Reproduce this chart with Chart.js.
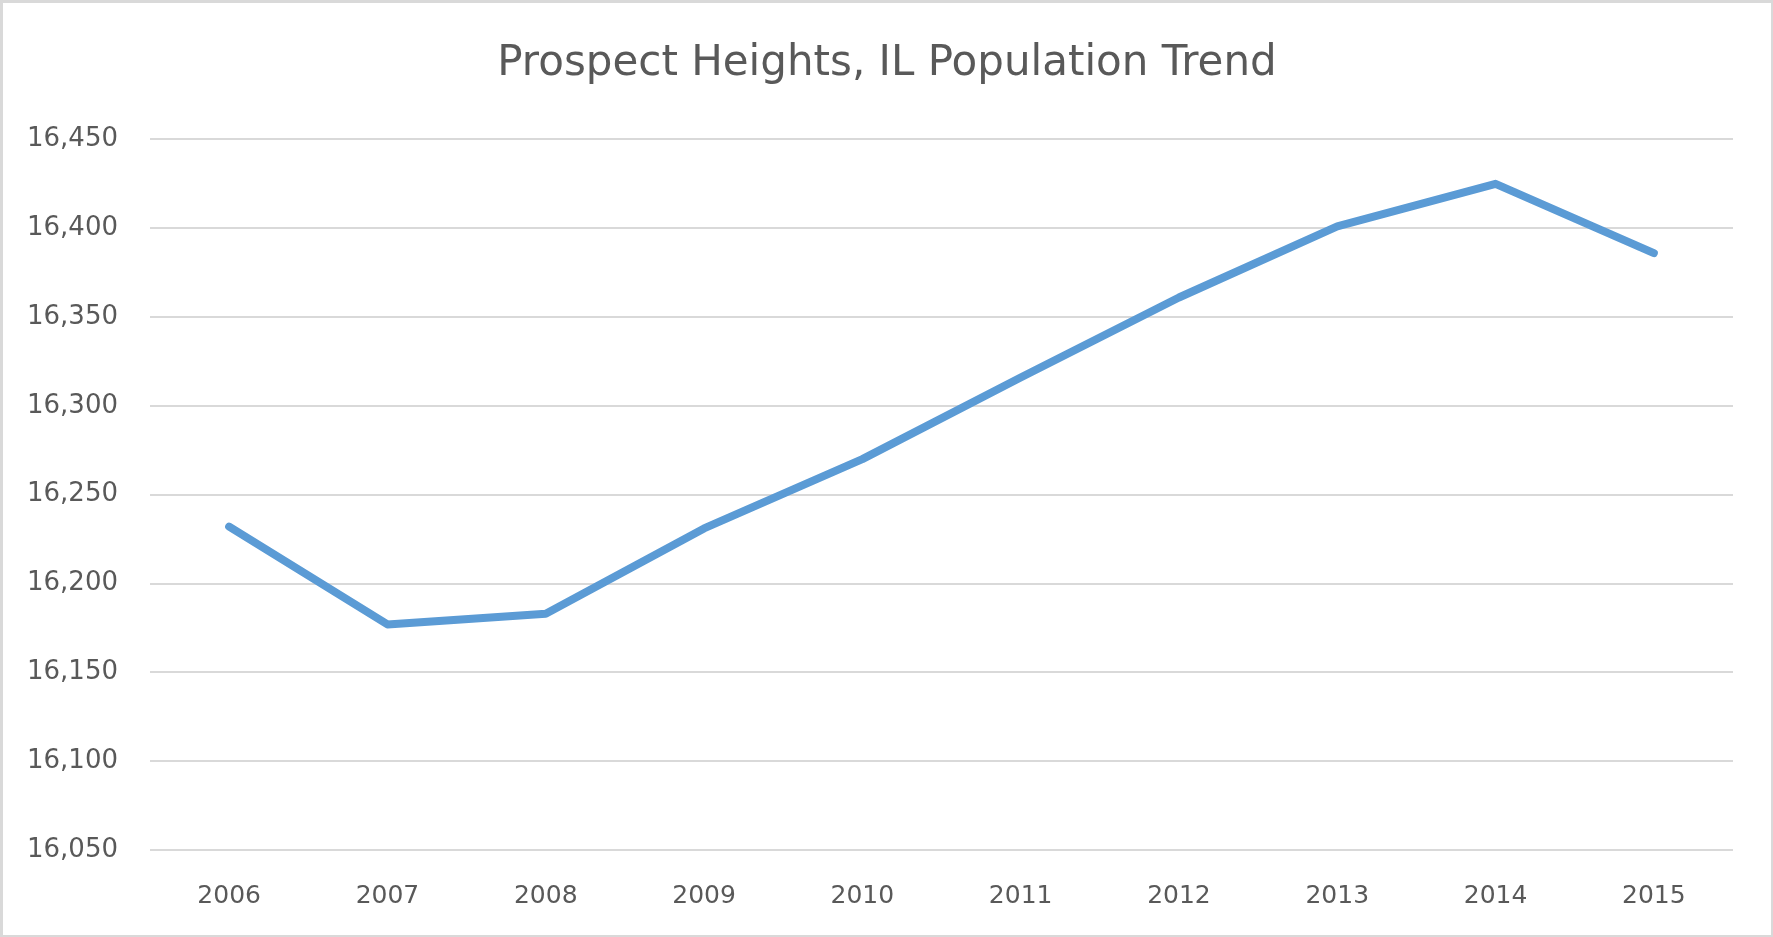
<!DOCTYPE html>
<html>
<head>
<meta charset="utf-8">
<script src="https://cdn.jsdelivr.net/npm/chart.js@4"></script>
<style>
  html, body { margin: 0; padding: 0; background: #fff; }
  #wrap {
    width: 1773px; height: 937px; box-sizing: border-box;
    border-top: 3px solid #d9d9d9; border-left: 3px solid #d9d9d9;
    border-right: 2px solid #d9d9d9; border-bottom: 2px solid #d9d9d9;
    position: relative; background: #fff;
  }
  canvas { display: block; }
</style>
</head>
<body>
<div id="wrap"><canvas id="c" width="1768" height="932"></canvas></div>
<script>
const chartTitle = "Prospect Heights, IL Population Trend";
const years = ["2006", "2007", "2008", "2009", "2010", "2011", "2012", "2013", "2014", "2015"];
const population = [16232, 16177, 16183, 16231, 16270, 16316, 16361, 16401, 16425, 16386];
const yMin = 16050;
const yMax = 16450;
const yStep = 50;

const textColor = "#595959";
const fontFamily = "'DejaVu Sans', 'Open Sans', sans-serif";

new Chart(document.getElementById("c"), {
  type: "line",
  data: {
    labels: years,
    datasets: [{
      label: "Population",
      data: population,
      yAxisID: "y",
      borderColor: "#5b9bd5",
      backgroundColor: "#5b9bd5",
      borderWidth: 8,
      borderCapStyle: "round",
      borderJoinStyle: "round",
      pointRadius: 0,
      pointHoverRadius: 0,
      tension: 0,
      fill: false
    }]
  },
  options: {
    responsive: false,
    animation: false,
    devicePixelRatio: 1,
    layout: { padding: 0 },
    plugins: {
      legend: { display: false },
      tooltip: { enabled: false },
      title: {
        display: true,
        text: chartTitle,
        color: textColor,
        font: { family: fontFamily, size: 42, weight: "normal" },
        padding: { top: 36, bottom: 50 }
      }
    },
    scales: {
      x: {
        type: "category",
        offset: true,
        grid: { display: false, drawTicks: false },
        border: { display: false },
        ticks: {
          color: textColor,
          font: { family: fontFamily, size: 25 },
          padding: 31,
          maxRotation: 0,
          autoSkip: false
        },
        afterFit: (s) => { s.height = 85; }
      },
      y: {
        position: "left",
        min: yMin,
        max: yMax,
        grid: { color: "#d9d9d9", lineWidth: 2, drawTicks: false },
        border: { display: false },
        ticks: {
          stepSize: yStep,
          color: textColor,
          font: { family: fontFamily, size: 26 },
          padding: 32,
          callback: (v) => v.toLocaleString("en-US")
        },
        afterFit: (s) => { s.width = 147; }
      },
      yRightGap: {
        position: "right",
        min: yMin,
        max: yMax,
        grid: { display: false, drawTicks: false },
        border: { display: false },
        ticks: { display: false },
        afterFit: (s) => { s.width = 38; }
      }
    }
  }
});
</script>
</body>
</html>
